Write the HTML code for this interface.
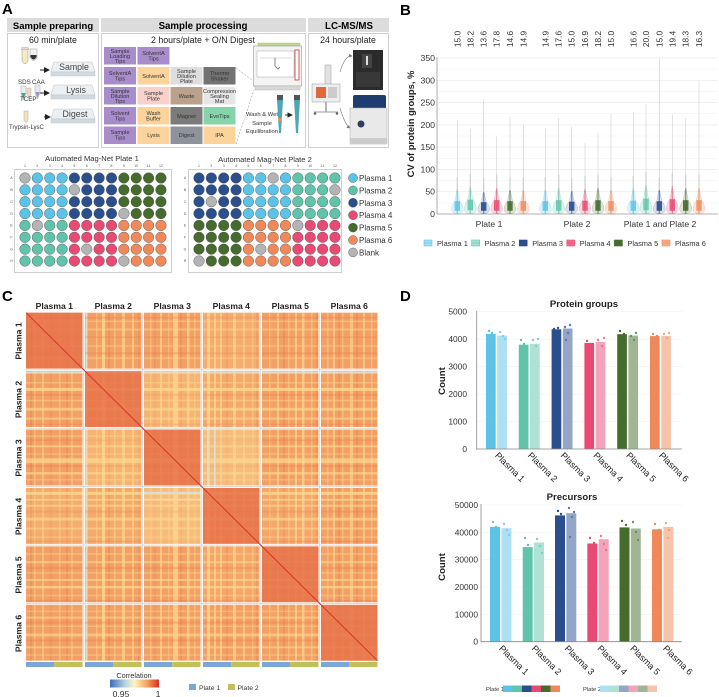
<!DOCTYPE html>
<html><head><meta charset="utf-8">
<style>
html,body{margin:0;padding:0;background:#fff;}
svg{display:block;}
.p1{fill:#5bc3e8}.p2{fill:#5fc4aa}.p3{fill:#2b4f8d}.p4{fill:#e94a73}.p5{fill:#456b2d}.p6{fill:#f0895a}.bl{fill:#b4b4b4}
.pl circle{stroke:#4a4a4a;stroke-width:0.4}
.t{font-size:5.6px;fill:#333;text-anchor:middle}
</style></head>
<body>
<svg width="719" height="697" viewBox="0 0 719 697" font-family="'Liberation Sans', Arial, sans-serif">
<defs>
<linearGradient id="cg" x1="0" x2="1" y1="0" y2="0">
<stop offset="0" stop-color="#3a6db5"/><stop offset="0.3" stop-color="#b5d0e4"/><stop offset="0.5" stop-color="#fdf5c3"/><stop offset="0.75" stop-color="#f7a35c"/><stop offset="1" stop-color="#d6302a"/>
</linearGradient>
<marker id="ah" markerWidth="6" markerHeight="6" refX="5" refY="3" orient="auto"><path d="M0,0 L6,3 L0,6 Z" fill="#222"/></marker>
<marker id="ag" markerWidth="6" markerHeight="6" refX="5" refY="3" orient="auto"><path d="M0,0 L6,3 L0,6 Z" fill="#777"/></marker>
</defs>

<!-- ================= PANEL A ================= -->
<text x="2" y="14" font-size="15" font-weight="bold">A</text>
<rect x="7" y="18" width="92" height="14" fill="#dcdcdc"/>
<rect x="101" y="18" width="205" height="14" fill="#dcdcdc"/>
<rect x="308" y="18" width="81" height="14" fill="#dcdcdc"/>
<text x="53" y="29" font-size="9.5" font-weight="bold" text-anchor="middle">Sample preparing</text>
<text x="203" y="29" font-size="9.7" font-weight="bold" text-anchor="middle">Sample processing</text>
<text x="349" y="29" font-size="9.7" font-weight="bold" text-anchor="middle">LC-MS/MS</text>
<rect x="7.5" y="33.5" width="91" height="114" fill="#fff" stroke="#cfcfcf"/>
<rect x="101.5" y="33.5" width="204" height="114" fill="#fff" stroke="#cfcfcf"/>
<rect x="308.5" y="33.5" width="80" height="114" fill="#fff" stroke="#cfcfcf"/>
<text x="53" y="43" font-size="8.8" text-anchor="middle" fill="#222">60 min/plate</text>
<text x="203" y="43" font-size="8.8" text-anchor="middle" fill="#222">2 hours/plate + O/N Digest</text>
<text x="348" y="43" font-size="8.8" text-anchor="middle" fill="#222">24 hours/plate</text>

<!-- tubes -->
<path d="M22,49 h6 v12 q-3,6 -6,0 z" fill="#f3e9c2" stroke="#999" stroke-width="0.5"/>
<rect x="21.5" y="47.5" width="7" height="2" fill="#ddd" stroke="#999" stroke-width="0.4"/>
<path d="M30,49 h7 v9 q-3.5,5 -7,0 z" fill="#eef2f4" stroke="#999" stroke-width="0.5"/>
<path d="M30.5,57 q3,5 6,0 v-2 h-6 z" fill="#333"/>
<line x1="40" y1="70" x2="49" y2="70" stroke="#222" stroke-width="1" marker-end="url(#ah)"/>
<line x1="40" y1="93" x2="49" y2="93" stroke="#222" stroke-width="1" marker-end="url(#ah)"/>
<line x1="44" y1="117" x2="50" y2="117" stroke="#222" stroke-width="1" marker-end="url(#ah)"/>
<text x="18" y="84" font-size="6.2" fill="#333">SDS</text>
<text x="32" y="84" font-size="6.2" fill="#333">CAA</text>
<path d="M21,86 h5 v8 l-2.5,6 l-2.5,-6 z" fill="#e8eef0" stroke="#999" stroke-width="0.4"/>
<path d="M21.3,93 h4.4 l-2.2,6 z" fill="#3aa68f"/>
<path d="M27,88 h4 v6 l-2,4 l-2,-4 z" fill="#f6d6c4" stroke="#999" stroke-width="0.4"/>
<path d="M35,85 h5 v8 l-2.5,6 l-2.5,-6 z" fill="#ece8f2" stroke="#999" stroke-width="0.4"/>
<path d="M35.3,92 h4.4 l-2.2,6 z" fill="#9c8cc8"/>
<text x="20" y="101" font-size="6.2" fill="#333">TCEP</text>
<path d="M24,111 h4 v9 l-2,3 l-2,-3 z" fill="#f3e5b5" stroke="#999" stroke-width="0.4"/>
<text x="9" y="129" font-size="6" fill="#333">Trypsin-LysC</text>
<!-- plates -->
<path d="M54,62 L92,62 L95,72 L51,72 Z" fill="#edf0f2" stroke="#b8c0c6" stroke-width="0.5"/>
<rect x="51" y="72" width="44" height="4" fill="#d3dadf" stroke="#b8c0c6" stroke-width="0.4"/>
<text x="74" y="70" font-size="8.8" text-anchor="middle" fill="#444">Sample</text>
<path d="M54,85 L92,85 L95,95 L51,95 Z" fill="#edf0f2" stroke="#b8c0c6" stroke-width="0.5"/>
<rect x="51" y="95" width="44" height="4" fill="#d3dadf" stroke="#b8c0c6" stroke-width="0.4"/>
<text x="76" y="93" font-size="8.8" text-anchor="middle" fill="#444">Lysis</text>
<path d="M54,109 L92,109 L95,119 L51,119 Z" fill="#edf0f2" stroke="#b8c0c6" stroke-width="0.5"/>
<rect x="51" y="119" width="44" height="4" fill="#d3dadf" stroke="#b8c0c6" stroke-width="0.4"/>
<text x="75" y="117" font-size="8.8" text-anchor="middle" fill="#444">Digest</text>

<!-- deck tiles -->
<g>
<rect x="104" y="47" width="32" height="17.5" fill="#a98ccc"/><text class="t" x="120" y="53">Sample<tspan x="120" dy="5">Loading</tspan><tspan x="120" dy="5">Tips</tspan></text>
<rect x="137.5" y="47" width="32" height="17.5" fill="#a98ccc"/><text class="t" x="153.5" y="55">SolventA<tspan x="153.5" dy="5.5">Tips</tspan></text>

<rect x="104" y="67" width="32" height="17.5" fill="#a98ccc"/><text class="t" x="120" y="75">SolventA<tspan x="120" dy="5.5">Tips</tspan></text>
<rect x="137.5" y="67" width="32" height="17.5" fill="#fcd49b"/><text class="t" x="153.5" y="78">SolventA</text>
<rect x="170.5" y="67" width="32" height="17.5" fill="#dedede"/><text class="t" x="186.5" y="73">Sample<tspan x="186.5" dy="5">Dilution</tspan><tspan x="186.5" dy="5">Plate</tspan></text>
<rect x="203.5" y="67" width="32" height="17.5" fill="#737373"/><text class="t" x="219.5" y="75" fill="#222">Thermo<tspan x="219.5" dy="5.5">Shaker</tspan></text>

<rect x="104" y="87" width="32" height="17.5" fill="#a98ccc"/><text class="t" x="120" y="93">Sample<tspan x="120" dy="5">Dilution</tspan><tspan x="120" dy="5">Tips</tspan></text>
<rect x="137.5" y="87" width="32" height="17.5" fill="#f9d0cc"/><text class="t" x="153.5" y="95">Sample<tspan x="153.5" dy="5.5">Plate</tspan></text>
<rect x="170.5" y="87" width="32" height="17.5" fill="#b9a18b"/><text class="t" x="186.5" y="98">Waste</text>
<rect x="203.5" y="87" width="32" height="17.5" fill="#e6e6e6"/><text class="t" x="219.5" y="93">Compression<tspan x="219.5" dy="5">Sealing</tspan><tspan x="219.5" dy="5">Mat</tspan></text>

<rect x="104" y="107" width="32" height="17.5" fill="#a98ccc"/><text class="t" x="120" y="115">Solvent<tspan x="120" dy="5.5">Tips</tspan></text>
<rect x="137.5" y="107" width="32" height="17.5" fill="#fcd49b"/><text class="t" x="153.5" y="115">Wash<tspan x="153.5" dy="5.5">Buffer</tspan></text>
<rect x="170.5" y="107" width="32" height="17.5" fill="#7b7b7b"/><text class="t" x="186.5" y="118">Magnet</text>
<rect x="203.5" y="107" width="32" height="17.5" fill="#86d5aa"/><text class="t" x="219.5" y="118">EvoTips</text>

<rect x="104" y="126.5" width="32" height="17.5" fill="#a98ccc"/><text class="t" x="120" y="134">Sample<tspan x="120" dy="5.5">Tips</tspan></text>
<rect x="137.5" y="126.5" width="32" height="17.5" fill="#fcd49b"/><text class="t" x="153.5" y="137">Lysis</text>
<rect x="170.5" y="126.5" width="32" height="17.5" fill="#8e939b"/><text class="t" x="186.5" y="137">Digest</text>
<rect x="203.5" y="126.5" width="32" height="17.5" fill="#fcd49b"/><text class="t" x="219.5" y="137">IPA</text>
</g>
<line x1="236" y1="68" x2="252" y2="80" stroke="#888" stroke-width="0.5" stroke-dasharray="2,1.5"/>
<line x1="236" y1="144" x2="254" y2="90" stroke="#888" stroke-width="0.5" stroke-dasharray="2,1.5"/>
<!-- robot -->
<rect x="258" y="43" width="42" height="3" fill="#bcd98e" stroke="#9fbf72" stroke-width="0.4"/>
<rect x="253.5" y="46" width="48" height="40" fill="#f3f3f3" stroke="#9a9a9a" stroke-width="0.6"/>
<rect x="257" y="51" width="37" height="26" fill="#fff" stroke="#aaa" stroke-width="0.5"/>
<rect x="295" y="50" width="4" height="30" fill="#fff" stroke="#c0392b" stroke-width="0.8"/>
<line x1="260" y1="58" x2="292" y2="58" stroke="#bbb" stroke-width="0.6"/>
<path d="M275,58 v8 l3,3 l2,-2" fill="none" stroke="#666" stroke-width="0.8"/>
<rect x="255" y="86" width="45" height="4" fill="#d8d8d8" stroke="#aaa" stroke-width="0.4"/>
<!-- tips -->
<rect x="277" y="95" width="6" height="5" fill="#555"/>
<path d="M277,100 h6 l-2,33 h-2 z" fill="#4fa7b4"/>
<rect x="278.5" y="118" width="3" height="3" fill="#e88a6a"/>
<rect x="294" y="95" width="6" height="5" fill="#555"/>
<path d="M294,100 h6 l-2,33 h-2 z" fill="#4fa7b4"/>
<line x1="285" y1="115" x2="292" y2="115" stroke="#222" stroke-width="0.9" marker-end="url(#ah)"/>
<text x="262" y="116" font-size="5.8" text-anchor="middle" fill="#333">Wash &amp; Wet</text>
<text x="262" y="125" font-size="5.8" text-anchor="middle" fill="#333">Sample</text>
<text x="262" y="133" font-size="5.8" text-anchor="middle" fill="#333">Equilibration</text>

<!-- LC-MS -->
<path d="M340,72 Q345,55 352,56" fill="none" stroke="#777" stroke-width="0.6" marker-end="url(#ag)"/>
<path d="M340,108 Q345,125 350,128" fill="none" stroke="#777" stroke-width="0.6" marker-end="url(#ag)"/>
<rect x="325" y="65" width="6" height="20" fill="#e2e2e2" stroke="#999" stroke-width="0.5"/>
<rect x="312" y="84" width="28" height="18" fill="#eee" stroke="#999" stroke-width="0.5"/>
<rect x="316" y="87" width="10" height="11" fill="#e2683a"/>
<rect x="328" y="87" width="9" height="11" fill="#ccc"/>
<line x1="326" y1="102" x2="326" y2="112" stroke="#999" stroke-width="1.5"/>
<line x1="314" y1="112" x2="338" y2="112" stroke="#999" stroke-width="1"/>
<circle cx="315" cy="113.5" r="1.3" fill="#666"/><circle cx="337" cy="113.5" r="1.3" fill="#666"/>
<rect x="353" y="50" width="30" height="40" fill="#2b2b2b"/>
<rect x="362" y="54" width="10" height="14" fill="#444"/>
<rect x="366" y="56" width="2" height="9" fill="#ddd"/>
<rect x="356" y="72" width="24" height="15" fill="#383838"/>
<rect x="353" y="95" width="33" height="15" rx="2" fill="#1f3b70"/>
<rect x="350" y="108" width="37" height="36" fill="#e9e9e9" stroke="#aaa" stroke-width="0.5"/>
<circle cx="361" cy="124" r="3.5" fill="#2d3e60"/>
<rect x="350" y="138" width="37" height="6" fill="#ccc"/>

<!-- plates title -->
<text x="92" y="161" font-size="7.6" text-anchor="middle" fill="#333">Automated Mag-Net Plate 1</text>
<text x="265" y="162" font-size="7.6" text-anchor="middle" fill="#333">Automated Mag-Net Plate 2</text>
<rect x="14.5" y="169.5" width="157" height="103" fill="#fff" stroke="#cfcfcf"/>
<rect x="188.5" y="169.5" width="153" height="103" fill="#fff" stroke="#cfcfcf"/>
<g font-size="3.5" fill="#555" text-anchor="middle">
<text x="25" y="167">1</text><text x="37.4" y="167">2</text><text x="49.7" y="167">3</text><text x="62.1" y="167">4</text><text x="74.4" y="167">5</text><text x="86.8" y="167">6</text><text x="99.2" y="167">7</text><text x="111.5" y="167">8</text><text x="123.9" y="167">9</text><text x="136.2" y="167">10</text><text x="148.6" y="167">11</text><text x="161" y="167">12</text>
<text x="199" y="167">1</text><text x="211.4" y="167">2</text><text x="223.7" y="167">3</text><text x="236.1" y="167">4</text><text x="248.4" y="167">5</text><text x="260.8" y="167">6</text><text x="273.2" y="167">7</text><text x="285.5" y="167">8</text><text x="297.9" y="167">9</text><text x="310.2" y="167">10</text><text x="322.6" y="167">11</text><text x="335" y="167">12</text>
<text x="11.5" y="179.2">A</text><text x="11.5" y="191">B</text><text x="11.5" y="203">C</text><text x="11.5" y="214.8">D</text><text x="11.5" y="226.6">E</text><text x="11.5" y="238.5">F</text><text x="11.5" y="250.4">G</text><text x="11.5" y="262.2">H</text>
<text x="185" y="179.2">A</text><text x="185" y="191">B</text><text x="185" y="203">C</text><text x="185" y="214.8">D</text><text x="185" y="226.6">E</text><text x="185" y="238.5">F</text><text x="185" y="250.4">G</text><text x="185" y="262.2">H</text>
</g>
<g class="pl">
<g transform="translate(25,178)"><circle class="bl" cx="0" r="5.3"/><circle class="p1" cx="12.36" r="5.3"/><circle class="p1" cx="24.72" r="5.3"/><circle class="p1" cx="37.08" r="5.3"/><circle class="p3" cx="49.44" r="5.3"/><circle class="p3" cx="61.8" r="5.3"/><circle class="p3" cx="74.16" r="5.3"/><circle class="p3" cx="86.52" r="5.3"/><circle class="p5" cx="98.88" r="5.3"/><circle class="p5" cx="111.24" r="5.3"/><circle class="p5" cx="123.6" r="5.3"/><circle class="p5" cx="135.96" r="5.3"/></g>
<g transform="translate(25,189.86)"><circle class="p1" cx="0" r="5.3"/><circle class="p1" cx="12.36" r="5.3"/><circle class="p1" cx="24.72" r="5.3"/><circle class="p1" cx="37.08" r="5.3"/><circle class="bl" cx="49.44" r="5.3"/><circle class="p3" cx="61.8" r="5.3"/><circle class="p3" cx="74.16" r="5.3"/><circle class="p3" cx="86.52" r="5.3"/><circle class="p5" cx="98.88" r="5.3"/><circle class="p5" cx="111.24" r="5.3"/><circle class="p5" cx="123.6" r="5.3"/><circle class="p5" cx="135.96" r="5.3"/></g>
<g transform="translate(25,201.72)"><circle class="p1" cx="0" r="5.3"/><circle class="p1" cx="12.36" r="5.3"/><circle class="p1" cx="24.72" r="5.3"/><circle class="p1" cx="37.08" r="5.3"/><circle class="p3" cx="49.44" r="5.3"/><circle class="p3" cx="61.8" r="5.3"/><circle class="p3" cx="74.16" r="5.3"/><circle class="p3" cx="86.52" r="5.3"/><circle class="p5" cx="98.88" r="5.3"/><circle class="p5" cx="111.24" r="5.3"/><circle class="p5" cx="123.6" r="5.3"/><circle class="p5" cx="135.96" r="5.3"/></g>
<g transform="translate(25,213.58)"><circle class="p1" cx="0" r="5.3"/><circle class="p1" cx="12.36" r="5.3"/><circle class="p1" cx="24.72" r="5.3"/><circle class="p1" cx="37.08" r="5.3"/><circle class="p3" cx="49.44" r="5.3"/><circle class="p3" cx="61.8" r="5.3"/><circle class="p3" cx="74.16" r="5.3"/><circle class="p3" cx="86.52" r="5.3"/><circle class="bl" cx="98.88" r="5.3"/><circle class="p5" cx="111.24" r="5.3"/><circle class="p5" cx="123.6" r="5.3"/><circle class="p5" cx="135.96" r="5.3"/></g>
<g transform="translate(25,225.44)"><circle class="p2" cx="0" r="5.3"/><circle class="bl" cx="12.36" r="5.3"/><circle class="p2" cx="24.72" r="5.3"/><circle class="p2" cx="37.08" r="5.3"/><circle class="p4" cx="49.44" r="5.3"/><circle class="p4" cx="61.8" r="5.3"/><circle class="p4" cx="74.16" r="5.3"/><circle class="p4" cx="86.52" r="5.3"/><circle class="p6" cx="98.88" r="5.3"/><circle class="p6" cx="111.24" r="5.3"/><circle class="p6" cx="123.6" r="5.3"/><circle class="p6" cx="135.96" r="5.3"/></g>
<g transform="translate(25,237.3)"><circle class="p2" cx="0" r="5.3"/><circle class="p2" cx="12.36" r="5.3"/><circle class="p2" cx="24.72" r="5.3"/><circle class="p2" cx="37.08" r="5.3"/><circle class="p4" cx="49.44" r="5.3"/><circle class="p4" cx="61.8" r="5.3"/><circle class="p4" cx="74.16" r="5.3"/><circle class="p4" cx="86.52" r="5.3"/><circle class="p6" cx="98.88" r="5.3"/><circle class="p6" cx="111.24" r="5.3"/><circle class="p6" cx="123.6" r="5.3"/><circle class="p6" cx="135.96" r="5.3"/></g>
<g transform="translate(25,249.16)"><circle class="p2" cx="0" r="5.3"/><circle class="p2" cx="12.36" r="5.3"/><circle class="p2" cx="24.72" r="5.3"/><circle class="p2" cx="37.08" r="5.3"/><circle class="p4" cx="49.44" r="5.3"/><circle class="bl" cx="61.8" r="5.3"/><circle class="p4" cx="74.16" r="5.3"/><circle class="p4" cx="86.52" r="5.3"/><circle class="p6" cx="98.88" r="5.3"/><circle class="p6" cx="111.24" r="5.3"/><circle class="p6" cx="123.6" r="5.3"/><circle class="p6" cx="135.96" r="5.3"/></g>
<g transform="translate(25,261.02)"><circle class="p2" cx="0" r="5.3"/><circle class="p2" cx="12.36" r="5.3"/><circle class="p2" cx="24.72" r="5.3"/><circle class="p2" cx="37.08" r="5.3"/><circle class="p4" cx="49.44" r="5.3"/><circle class="p4" cx="61.8" r="5.3"/><circle class="p4" cx="74.16" r="5.3"/><circle class="p4" cx="86.52" r="5.3"/><circle class="bl" cx="98.88" r="5.3"/><circle class="p6" cx="111.24" r="5.3"/><circle class="p6" cx="123.6" r="5.3"/><circle class="p6" cx="135.96" r="5.3"/></g>

<g transform="translate(199,178)"><circle class="p3" cx="0" r="5.3"/><circle class="p3" cx="12.36" r="5.3"/><circle class="p3" cx="24.72" r="5.3"/><circle class="p3" cx="37.08" r="5.3"/><circle class="p1" cx="49.44" r="5.3"/><circle class="p1" cx="61.8" r="5.3"/><circle class="bl" cx="74.16" r="5.3"/><circle class="p1" cx="86.52" r="5.3"/><circle class="p2" cx="98.88" r="5.3"/><circle class="p2" cx="111.24" r="5.3"/><circle class="p2" cx="123.6" r="5.3"/><circle class="p2" cx="135.96" r="5.3"/></g>
<g transform="translate(199,189.86)"><circle class="p3" cx="0" r="5.3"/><circle class="p3" cx="12.36" r="5.3"/><circle class="p3" cx="24.72" r="5.3"/><circle class="p3" cx="37.08" r="5.3"/><circle class="p1" cx="49.44" r="5.3"/><circle class="p1" cx="61.8" r="5.3"/><circle class="p1" cx="74.16" r="5.3"/><circle class="p1" cx="86.52" r="5.3"/><circle class="p2" cx="98.88" r="5.3"/><circle class="p2" cx="111.24" r="5.3"/><circle class="p2" cx="123.6" r="5.3"/><circle class="bl" cx="135.96" r="5.3"/></g>
<g transform="translate(199,201.72)"><circle class="p3" cx="0" r="5.3"/><circle class="bl" cx="12.36" r="5.3"/><circle class="p3" cx="24.72" r="5.3"/><circle class="p3" cx="37.08" r="5.3"/><circle class="p1" cx="49.44" r="5.3"/><circle class="p1" cx="61.8" r="5.3"/><circle class="p1" cx="74.16" r="5.3"/><circle class="p1" cx="86.52" r="5.3"/><circle class="p2" cx="98.88" r="5.3"/><circle class="p2" cx="111.24" r="5.3"/><circle class="p2" cx="123.6" r="5.3"/><circle class="p2" cx="135.96" r="5.3"/></g>
<g transform="translate(199,213.58)"><circle class="p3" cx="0" r="5.3"/><circle class="p3" cx="12.36" r="5.3"/><circle class="p3" cx="24.72" r="5.3"/><circle class="p3" cx="37.08" r="5.3"/><circle class="p1" cx="49.44" r="5.3"/><circle class="p1" cx="61.8" r="5.3"/><circle class="p1" cx="74.16" r="5.3"/><circle class="p1" cx="86.52" r="5.3"/><circle class="p2" cx="98.88" r="5.3"/><circle class="p2" cx="111.24" r="5.3"/><circle class="p2" cx="123.6" r="5.3"/><circle class="p2" cx="135.96" r="5.3"/></g>
<g transform="translate(199,225.44)"><circle class="p5" cx="0" r="5.3"/><circle class="p5" cx="12.36" r="5.3"/><circle class="p5" cx="24.72" r="5.3"/><circle class="p5" cx="37.08" r="5.3"/><circle class="p6" cx="49.44" r="5.3"/><circle class="p6" cx="61.8" r="5.3"/><circle class="p6" cx="74.16" r="5.3"/><circle class="p6" cx="86.52" r="5.3"/><circle class="bl" cx="98.88" r="5.3"/><circle class="p4" cx="111.24" r="5.3"/><circle class="p4" cx="123.6" r="5.3"/><circle class="p4" cx="135.96" r="5.3"/></g>
<g transform="translate(199,237.3)"><circle class="p5" cx="0" r="5.3"/><circle class="p5" cx="12.36" r="5.3"/><circle class="p5" cx="24.72" r="5.3"/><circle class="p5" cx="37.08" r="5.3"/><circle class="p6" cx="49.44" r="5.3"/><circle class="p6" cx="61.8" r="5.3"/><circle class="p6" cx="74.16" r="5.3"/><circle class="p6" cx="86.52" r="5.3"/><circle class="p4" cx="98.88" r="5.3"/><circle class="p4" cx="111.24" r="5.3"/><circle class="p4" cx="123.6" r="5.3"/><circle class="p4" cx="135.96" r="5.3"/></g>
<g transform="translate(199,249.16)"><circle class="p5" cx="0" r="5.3"/><circle class="p5" cx="12.36" r="5.3"/><circle class="p5" cx="24.72" r="5.3"/><circle class="p5" cx="37.08" r="5.3"/><circle class="p6" cx="49.44" r="5.3"/><circle class="bl" cx="61.8" r="5.3"/><circle class="p6" cx="74.16" r="5.3"/><circle class="p6" cx="86.52" r="5.3"/><circle class="p4" cx="98.88" r="5.3"/><circle class="p4" cx="111.24" r="5.3"/><circle class="p4" cx="123.6" r="5.3"/><circle class="p4" cx="135.96" r="5.3"/></g>
<g transform="translate(199,261.02)"><circle class="bl" cx="0" r="5.3"/><circle class="p5" cx="12.36" r="5.3"/><circle class="p5" cx="24.72" r="5.3"/><circle class="p5" cx="37.08" r="5.3"/><circle class="p6" cx="49.44" r="5.3"/><circle class="p6" cx="61.8" r="5.3"/><circle class="p6" cx="74.16" r="5.3"/><circle class="p6" cx="86.52" r="5.3"/><circle class="p4" cx="98.88" r="5.3"/><circle class="p4" cx="111.24" r="5.3"/><circle class="p4" cx="123.6" r="5.3"/><circle class="p4" cx="135.96" r="5.3"/></g>
<!-- legend -->
<circle class="p1" cx="353" cy="178" r="4.5"/><circle class="p2" cx="353" cy="190.4" r="4.5"/><circle class="p3" cx="353" cy="202.8" r="4.5"/><circle class="p4" cx="353" cy="215.2" r="4.5"/><circle class="p5" cx="353" cy="227.6" r="4.5"/><circle class="p6" cx="353" cy="240" r="4.5"/><circle class="bl" cx="353" cy="252.4" r="4.5"/>
</g>
<g font-size="8" fill="#333">
<text x="359" y="181">Plasma 1</text><text x="359" y="193.4">Plasma 2</text><text x="359" y="205.8">Plasma 3</text><text x="359" y="218.2">Plasma 4</text><text x="359" y="230.6">Plasma 5</text><text x="359" y="243">Plasma 6</text><text x="359" y="255.4">Blank</text>
</g>

<!-- ================= PANEL B ================= -->
<text x="400" y="15" font-size="15" font-weight="bold">B</text>
<g stroke="#f2f2f2" stroke-width="0.6">
<line x1="437" y1="69.1" x2="718" y2="69.1"/><line x1="437" y1="91.4" x2="718" y2="91.4"/><line x1="437" y1="113.7" x2="718" y2="113.7"/><line x1="437" y1="136" x2="718" y2="136"/><line x1="437" y1="158.3" x2="718" y2="158.3"/><line x1="437" y1="180.6" x2="718" y2="180.6"/><line x1="437" y1="202.9" x2="718" y2="202.9"/>
</g>
<g stroke="#e6e6e6" stroke-width="0.6">
<line x1="437" y1="58" x2="718" y2="58"/><line x1="437" y1="80.3" x2="718" y2="80.3"/><line x1="437" y1="102.6" x2="718" y2="102.6"/><line x1="437" y1="124.9" x2="718" y2="124.9"/><line x1="437" y1="147.1" x2="718" y2="147.1"/><line x1="437" y1="169.4" x2="718" y2="169.4"/><line x1="437" y1="191.7" x2="718" y2="191.7"/>
</g>
<line x1="437" y1="57" x2="437" y2="214.5" stroke="#999" stroke-width="0.8"/>
<line x1="437" y1="214" x2="718" y2="214" stroke="#999" stroke-width="0.8"/>
<g font-size="8.7" fill="#333" text-anchor="end">
<text x="435" y="61">350</text><text x="435" y="83.3">300</text><text x="435" y="105.6">250</text><text x="435" y="127.9">200</text><text x="435" y="150.1">150</text><text x="435" y="172.4">100</text><text x="435" y="194.7">50</text><text x="435" y="217">0</text>
</g>
<text transform="translate(414,124) rotate(-90)" font-size="9.4" font-weight="bold" text-anchor="middle" fill="#222">CV of protein  groups, %</text>
<g font-size="8.6" fill="#333" text-anchor="middle">
<text x="489" y="227">Plate 1</text><text x="577" y="227">Plate 2</text><text x="660" y="227">Plate 1 and Plate 2</text>
</g>
<!-- top numbers -->
<g font-size="8.4" fill="#333" text-anchor="middle">
<text transform="translate(460.3,39) rotate(-90)">15.0</text><text transform="translate(473.3,39) rotate(-90)">18.2</text><text transform="translate(486.7,39) rotate(-90)">13.6</text><text transform="translate(499.7,39) rotate(-90)">17.8</text><text transform="translate(513,39) rotate(-90)">14.6</text><text transform="translate(526.3,39) rotate(-90)">14.9</text>
<text transform="translate(548.3,39) rotate(-90)">14.9</text><text transform="translate(561.7,39) rotate(-90)">17.6</text><text transform="translate(574.7,39) rotate(-90)">15.0</text><text transform="translate(588,39) rotate(-90)">16.9</text><text transform="translate(601,39) rotate(-90)">18.2</text><text transform="translate(614,39) rotate(-90)">15.0</text>
<text transform="translate(636.3,39) rotate(-90)">16.6</text><text transform="translate(649,39) rotate(-90)">20.0</text><text transform="translate(662.3,39) rotate(-90)">15.0</text><text transform="translate(675.3,39) rotate(-90)">19.4</text><text transform="translate(688.7,39) rotate(-90)">18.3</text><text transform="translate(702,39) rotate(-90)">16.3</text>
</g>
<!-- thicker tail segments -->
<g stroke="#c4c4c4" stroke-width="1.1">
<line x1="457.3" y1="214" x2="457.3" y2="177"/><line x1="470.3" y1="214" x2="470.3" y2="174"/><line x1="483.7" y1="214" x2="483.7" y2="178"/><line x1="496.7" y1="214" x2="496.7" y2="175"/><line x1="510" y1="214" x2="510" y2="177"/><line x1="523.3" y1="214" x2="523.3" y2="177"/>
<line x1="545.3" y1="214" x2="545.3" y2="177"/><line x1="558.7" y1="214" x2="558.7" y2="175"/><line x1="571.7" y1="214" x2="571.7" y2="178"/><line x1="585" y1="214" x2="585" y2="176"/><line x1="598" y1="214" x2="598" y2="175"/><line x1="611" y1="214" x2="611" y2="177"/>
<line x1="633.3" y1="214" x2="633.3" y2="176"/><line x1="646" y1="214" x2="646" y2="172"/><line x1="659.3" y1="214" x2="659.3" y2="177"/><line x1="672.3" y1="214" x2="672.3" y2="173"/><line x1="685.7" y1="214" x2="685.7" y2="175"/><line x1="699" y1="214" x2="699" y2="175"/>
</g>
<!-- violins -->
<g id="violins">
<g transform="translate(457.3,0)"><line y1="214" y2="120" stroke="#d0d0d0" stroke-width="0.6"/><line y1="214" y2="189" stroke="#5bc3e8" stroke-opacity="0.45" stroke-width="1.3"/><path d="M0,213.5 C-8,213.5 -7,207 -2.5,201 L-0.6,191 L0.6,191 L2.5,201 C7,207 8,213.5 0,213.5 Z" fill="#5bc3e8" fill-opacity="0.22" stroke="#5bc3e8" stroke-opacity="0.5" stroke-width="0.4"/><rect x="-2.4" y="201.5" width="4.8" height="9" fill="#5bc3e8" fill-opacity="0.8" stroke="#5bc3e8" stroke-width="0.5"/></g>
<g transform="translate(470.3,0)"><line y1="214" y2="128.9" stroke="#d0d0d0" stroke-width="0.6"/><line y1="214" y2="187" stroke="#5fc4aa" stroke-opacity="0.45" stroke-width="1.3"/><path d="M0,213.5 C-8,213.5 -7,207 -2.5,199 L-0.6,189 L0.6,189 L2.5,199 C7,207 8,213.5 0,213.5 Z" fill="#5fc4aa" fill-opacity="0.22" stroke="#5fc4aa" stroke-opacity="0.5" stroke-width="0.4"/><rect x="-2.4" y="200" width="4.8" height="10" fill="#5fc4aa" fill-opacity="0.8" stroke="#5fc4aa" stroke-width="0.5"/></g>
<g transform="translate(483.7,0)"><line y1="214" y2="99" stroke="#d0d0d0" stroke-width="0.6"/><line y1="214" y2="192" stroke="#2b4f8d" stroke-opacity="0.45" stroke-width="1.3"/><path d="M0,213.5 C-8,213.5 -7,207 -2.5,202 L-0.6,193 L0.6,193 L2.5,202 C7,207 8,213.5 0,213.5 Z" fill="#2b4f8d" fill-opacity="0.18" stroke="#2b4f8d" stroke-opacity="0.4" stroke-width="0.4"/><rect x="-2.4" y="202.5" width="4.8" height="8" fill="#2b4f8d" fill-opacity="0.9" stroke="#2b4f8d" stroke-width="0.5"/></g>
<g transform="translate(496.7,0)"><line y1="214" y2="136.4" stroke="#d0d0d0" stroke-width="0.6"/><line y1="214" y2="188" stroke="#e94a73" stroke-opacity="0.45" stroke-width="1.3"/><path d="M0,213.5 C-8,213.5 -7,207 -2.5,200 L-0.6,190 L0.6,190 L2.5,200 C7,207 8,213.5 0,213.5 Z" fill="#e94a73" fill-opacity="0.2" stroke="#e94a73" stroke-opacity="0.45" stroke-width="0.4"/><rect x="-2.4" y="200.5" width="4.8" height="10" fill="#e94a73" fill-opacity="0.85" stroke="#e94a73" stroke-width="0.5"/></g>
<g transform="translate(510,0)"><line y1="214" y2="116.4" stroke="#d0d0d0" stroke-width="0.6"/><line y1="214" y2="190" stroke="#456b2d" stroke-opacity="0.45" stroke-width="1.3"/><path d="M0,213.5 C-8,213.5 -7,207 -2.5,201 L-0.6,191 L0.6,191 L2.5,201 C7,207 8,213.5 0,213.5 Z" fill="#456b2d" fill-opacity="0.18" stroke="#456b2d" stroke-opacity="0.4" stroke-width="0.4"/><rect x="-2.4" y="201.5" width="4.8" height="9" fill="#456b2d" fill-opacity="0.9" stroke="#456b2d" stroke-width="0.5"/></g>
<g transform="translate(523.3,0)"><line y1="214" y2="124.9" stroke="#d0d0d0" stroke-width="0.6"/><line y1="214" y2="190" stroke="#f0895a" stroke-opacity="0.45" stroke-width="1.3"/><path d="M0,213.5 C-8,213.5 -7,207 -2.5,201 L-0.6,191 L0.6,191 L2.5,201 C7,207 8,213.5 0,213.5 Z" fill="#f0895a" fill-opacity="0.22" stroke="#f0895a" stroke-opacity="0.5" stroke-width="0.4"/><rect x="-2.4" y="201.5" width="4.8" height="9" fill="#f0895a" fill-opacity="0.8" stroke="#f0895a" stroke-width="0.5"/></g>

<g transform="translate(545.3,0)"><line y1="214" y2="128" stroke="#d0d0d0" stroke-width="0.6"/><line y1="214" y2="190" stroke="#5bc3e8" stroke-opacity="0.45" stroke-width="1.3"/><path d="M0,213.5 C-8,213.5 -7,207 -2.5,201 L-0.6,191 L0.6,191 L2.5,201 C7,207 8,213.5 0,213.5 Z" fill="#5bc3e8" fill-opacity="0.22" stroke="#5bc3e8" stroke-opacity="0.5" stroke-width="0.4"/><rect x="-2.4" y="201.5" width="4.8" height="9" fill="#5bc3e8" fill-opacity="0.8" stroke="#5bc3e8" stroke-width="0.5"/></g>
<g transform="translate(558.7,0)"><line y1="214" y2="118.2" stroke="#d0d0d0" stroke-width="0.6"/><line y1="214" y2="188" stroke="#5fc4aa" stroke-opacity="0.45" stroke-width="1.3"/><path d="M0,213.5 C-8,213.5 -7,207 -2.5,200 L-0.6,190 L0.6,190 L2.5,200 C7,207 8,213.5 0,213.5 Z" fill="#5fc4aa" fill-opacity="0.22" stroke="#5fc4aa" stroke-opacity="0.5" stroke-width="0.4"/><rect x="-2.4" y="200.5" width="4.8" height="10" fill="#5fc4aa" fill-opacity="0.8" stroke="#5fc4aa" stroke-width="0.5"/></g>
<g transform="translate(571.7,0)"><line y1="214" y2="126.6" stroke="#d0d0d0" stroke-width="0.6"/><line y1="214" y2="191" stroke="#2b4f8d" stroke-opacity="0.45" stroke-width="1.3"/><path d="M0,213.5 C-8,213.5 -7,207 -2.5,201.5 L-0.6,192 L0.6,192 L2.5,201.5 C7,207 8,213.5 0,213.5 Z" fill="#2b4f8d" fill-opacity="0.18" stroke="#2b4f8d" stroke-opacity="0.4" stroke-width="0.4"/><rect x="-2.4" y="202" width="4.8" height="8.5" fill="#2b4f8d" fill-opacity="0.9" stroke="#2b4f8d" stroke-width="0.5"/></g>
<g transform="translate(585,0)"><line y1="214" y2="143.1" stroke="#d0d0d0" stroke-width="0.6"/><line y1="214" y2="189" stroke="#e94a73" stroke-opacity="0.45" stroke-width="1.3"/><path d="M0,213.5 C-8,213.5 -7,207 -2.5,200.5 L-0.6,191 L0.6,191 L2.5,200.5 C7,207 8,213.5 0,213.5 Z" fill="#e94a73" fill-opacity="0.2" stroke="#e94a73" stroke-opacity="0.45" stroke-width="0.4"/><rect x="-2.4" y="201" width="4.8" height="9.5" fill="#e94a73" fill-opacity="0.85" stroke="#e94a73" stroke-width="0.5"/></g>
<g transform="translate(598,0)"><line y1="214" y2="132.4" stroke="#d0d0d0" stroke-width="0.6"/><line y1="214" y2="188" stroke="#456b2d" stroke-opacity="0.45" stroke-width="1.3"/><path d="M0,213.5 C-8,213.5 -7,207 -2.5,200 L-0.6,190 L0.6,190 L2.5,200 C7,207 8,213.5 0,213.5 Z" fill="#456b2d" fill-opacity="0.18" stroke="#456b2d" stroke-opacity="0.4" stroke-width="0.4"/><rect x="-2.4" y="200.5" width="4.8" height="10" fill="#456b2d" fill-opacity="0.9" stroke="#456b2d" stroke-width="0.5"/></g>
<g transform="translate(611,0)"><line y1="214" y2="113.7" stroke="#d0d0d0" stroke-width="0.6"/><line y1="214" y2="190" stroke="#f0895a" stroke-opacity="0.45" stroke-width="1.3"/><path d="M0,213.5 C-8,213.5 -7,207 -2.5,201 L-0.6,191 L0.6,191 L2.5,201 C7,207 8,213.5 0,213.5 Z" fill="#f0895a" fill-opacity="0.22" stroke="#f0895a" stroke-opacity="0.5" stroke-width="0.4"/><rect x="-2.4" y="201.5" width="4.8" height="9" fill="#f0895a" fill-opacity="0.8" stroke="#f0895a" stroke-width="0.5"/></g>

<g transform="translate(633.3,0)"><line y1="214" y2="111.5" stroke="#d0d0d0" stroke-width="0.6"/><line y1="214" y2="188" stroke="#5bc3e8" stroke-opacity="0.45" stroke-width="1.3"/><path d="M0,213.5 C-8,213.5 -7,207 -2.5,200.5 L-0.6,190 L0.6,190 L2.5,200.5 C7,207 8,213.5 0,213.5 Z" fill="#5bc3e8" fill-opacity="0.22" stroke="#5bc3e8" stroke-opacity="0.5" stroke-width="0.4"/><rect x="-2.4" y="201" width="4.8" height="9.5" fill="#5bc3e8" fill-opacity="0.8" stroke="#5bc3e8" stroke-width="0.5"/></g>
<g transform="translate(646,0)"><line y1="214" y2="103.9" stroke="#d0d0d0" stroke-width="0.6"/><line y1="214" y2="185" stroke="#5fc4aa" stroke-opacity="0.45" stroke-width="1.3"/><path d="M0,213.5 C-8,213.5 -7,207 -2.5,198.5 L-0.6,188 L0.6,188 L2.5,198.5 C7,207 8,213.5 0,213.5 Z" fill="#5fc4aa" fill-opacity="0.22" stroke="#5fc4aa" stroke-opacity="0.5" stroke-width="0.4"/><rect x="-2.4" y="199" width="4.8" height="11" fill="#5fc4aa" fill-opacity="0.8" stroke="#5fc4aa" stroke-width="0.5"/></g>
<g transform="translate(659.3,0)"><line y1="214" y2="58" stroke="#d0d0d0" stroke-width="0.6"/><line y1="214" y2="190" stroke="#2b4f8d" stroke-opacity="0.45" stroke-width="1.3"/><path d="M0,213.5 C-8,213.5 -7,207 -2.5,201 L-0.6,191 L0.6,191 L2.5,201 C7,207 8,213.5 0,213.5 Z" fill="#2b4f8d" fill-opacity="0.18" stroke="#2b4f8d" stroke-opacity="0.4" stroke-width="0.4"/><rect x="-2.4" y="201.5" width="4.8" height="9" fill="#2b4f8d" fill-opacity="0.9" stroke="#2b4f8d" stroke-width="0.5"/></g>
<g transform="translate(672.3,0)"><line y1="214" y2="114.6" stroke="#d0d0d0" stroke-width="0.6"/><line y1="214" y2="186" stroke="#e94a73" stroke-opacity="0.45" stroke-width="1.3"/><path d="M0,213.5 C-8,213.5 -7,207 -2.5,199 L-0.6,189 L0.6,189 L2.5,199 C7,207 8,213.5 0,213.5 Z" fill="#e94a73" fill-opacity="0.2" stroke="#e94a73" stroke-opacity="0.45" stroke-width="0.4"/><rect x="-2.4" y="199.5" width="4.8" height="11" fill="#e94a73" fill-opacity="0.85" stroke="#e94a73" stroke-width="0.5"/></g>
<g transform="translate(685.7,0)"><line y1="214" y2="118.2" stroke="#d0d0d0" stroke-width="0.6"/><line y1="214" y2="188" stroke="#456b2d" stroke-opacity="0.45" stroke-width="1.3"/><path d="M0,213.5 C-8,213.5 -7,207 -2.5,200 L-0.6,190 L0.6,190 L2.5,200 C7,207 8,213.5 0,213.5 Z" fill="#456b2d" fill-opacity="0.18" stroke="#456b2d" stroke-opacity="0.4" stroke-width="0.4"/><rect x="-2.4" y="200.5" width="4.8" height="10" fill="#456b2d" fill-opacity="0.9" stroke="#456b2d" stroke-width="0.5"/></g>
<g transform="translate(699,0)"><line y1="214" y2="80.7" stroke="#d0d0d0" stroke-width="0.6"/><line y1="214" y2="188" stroke="#f0895a" stroke-opacity="0.45" stroke-width="1.3"/><path d="M0,213.5 C-8,213.5 -7,207 -2.5,200 L-0.6,190 L0.6,190 L2.5,200 C7,207 8,213.5 0,213.5 Z" fill="#f0895a" fill-opacity="0.22" stroke="#f0895a" stroke-opacity="0.5" stroke-width="0.4"/><rect x="-2.4" y="200.5" width="4.8" height="10" fill="#f0895a" fill-opacity="0.8" stroke="#f0895a" stroke-width="0.5"/></g>
</g>
<!-- B legend -->
<g>
<rect x="424" y="240" width="8" height="6" fill="#5bc3e8" fill-opacity="0.55" stroke="#5bc3e8" stroke-width="0.6"/><line x1="424" y1="243" x2="432" y2="243" stroke="#5bc3e8" stroke-width="0.6"/>
<rect x="471.6" y="240" width="8" height="6" fill="#5fc4aa" fill-opacity="0.55" stroke="#5fc4aa" stroke-width="0.6"/><line x1="471.6" y1="243" x2="479.6" y2="243" stroke="#5fc4aa" stroke-width="0.6"/>
<rect x="519.2" y="240" width="8" height="6" fill="#2b4f8d" stroke="#2b4f8d" stroke-width="0.6"/>
<rect x="566.8" y="240" width="8" height="6" fill="#e94a73" fill-opacity="0.8" stroke="#e94a73" stroke-width="0.6"/><line x1="566.8" y1="243" x2="574.8" y2="243" stroke="#e94a73" stroke-width="0.6"/>
<rect x="614.4" y="240" width="8" height="6" fill="#456b2d" stroke="#456b2d" stroke-width="0.6"/>
<rect x="662" y="240" width="8" height="6" fill="#f0895a" fill-opacity="0.7" stroke="#f0895a" stroke-width="0.6"/><line x1="662" y1="243" x2="670" y2="243" stroke="#f0895a" stroke-width="0.6"/>
</g>
<g font-size="7.4" fill="#333">
<text x="437" y="246">Plasma 1</text><text x="484.6" y="246">Plasma 2</text><text x="532.2" y="246">Plasma 3</text><text x="579.8" y="246">Plasma 4</text><text x="627.4" y="246">Plasma 5</text><text x="675" y="246">Plasma 6</text>
</g>

<!-- ================= PANEL C ================= -->
<text x="2" y="301" font-size="15" font-weight="bold">C</text>
<g font-size="8.6" font-weight="bold" text-anchor="middle" fill="#222">
<text x="54.3" y="309">Plasma 1</text><text x="113.3" y="309">Plasma 2</text><text x="172.3" y="309">Plasma 3</text><text x="231.3" y="309">Plasma 4</text><text x="290.3" y="309">Plasma 5</text><text x="349.3" y="309">Plasma 6</text>
<text transform="translate(21.5,341) rotate(-90)">Plasma 1</text><text transform="translate(21.5,399.5) rotate(-90)">Plasma 2</text><text transform="translate(21.5,458) rotate(-90)">Plasma 3</text><text transform="translate(21.5,516.5) rotate(-90)">Plasma 4</text><text transform="translate(21.5,575) rotate(-90)">Plasma 5</text><text transform="translate(21.5,633.5) rotate(-90)">Plasma 6</text>
</g>
<g transform="translate(26,312.7) scale(1,0.99)">
<rect x="0" y="0" width="351.5" height="351.5" fill="#f3a066"/>
<g id="vs">
<rect x="8" y="0" width="1.5" height="351.5" fill="#fcd890" opacity="0.45"/>
<rect x="16" y="0" width="2" height="351.5" fill="#fcd890" opacity="0.5"/>
<rect x="33" y="0" width="1.5" height="351.5" fill="#fcd890" opacity="0.45"/>
<rect x="45" y="0" width="2" height="351.5" fill="#fcd890" opacity="0.4"/>
<rect x="59.5" y="0" width="2" height="351.5" fill="#dfe6dc" opacity="0.85"/>
<rect x="70" y="0" width="1.5" height="351.5" fill="#fcd890" opacity="0.45"/>
<rect x="76" y="0" width="3" height="351.5" fill="#fcd890" opacity="0.8"/>
<rect x="88" y="0" width="1.5" height="351.5" fill="#fcd890" opacity="0.5"/>
<rect x="96" y="0" width="3" height="351.5" fill="#fcd890" opacity="0.65"/>
<rect x="106" y="0" width="2" height="351.5" fill="#fcd890" opacity="0.6"/>
<rect x="124" y="0" width="1.5" height="351.5" fill="#fcd890" opacity="0.45"/>
<rect x="134" y="0" width="2" height="351.5" fill="#fcd890" opacity="0.65"/>
<rect x="142" y="0" width="1.5" height="351.5" fill="#fcd890" opacity="0.45"/>
<rect x="147" y="0" width="5" height="351.5" fill="#fcd890" opacity="0.7"/>
<rect x="161" y="0" width="2.5" height="351.5" fill="#fcd890" opacity="0.65"/>
<rect x="168" y="0" width="1.5" height="351.5" fill="#fcd890" opacity="0.45"/>
<rect x="181" y="0" width="3" height="351.5" fill="#fcd890" opacity="0.8"/>
<rect x="188" y="0" width="2" height="351.5" fill="#fcd890" opacity="0.7"/>
<rect x="194" y="0" width="2" height="351.5" fill="#fcd890" opacity="0.65"/>
<rect x="207" y="0" width="3" height="351.5" fill="#fcd890" opacity="0.65"/>
<rect x="217" y="0" width="2" height="351.5" fill="#fcd890" opacity="0.6"/>
<rect x="226" y="0" width="1.5" height="351.5" fill="#fcd890" opacity="0.45"/>
<rect x="243" y="0" width="1.5" height="351.5" fill="#fcd890" opacity="0.5"/>
<rect x="251" y="0" width="2" height="351.5" fill="#fcd890" opacity="0.6"/>
<rect x="262" y="0" width="1.5" height="351.5" fill="#fcd890" opacity="0.45"/>
<rect x="269" y="0" width="2" height="351.5" fill="#fcd890" opacity="0.65"/>
<rect x="276" y="0" width="2.5" height="351.5" fill="#fcd890" opacity="0.7"/>
<rect x="285" y="0" width="1.5" height="351.5" fill="#fcd890" opacity="0.45"/>
<rect x="301" y="0" width="1.5" height="351.5" fill="#fcd890" opacity="0.45"/>
<rect x="307" y="0" width="2" height="351.5" fill="#fcd890" opacity="0.6"/>
<rect x="316" y="0" width="1.5" height="351.5" fill="#fcd890" opacity="0.45"/>
<rect x="324" y="0" width="3" height="351.5" fill="#fcd890" opacity="0.6"/>
<rect x="337" y="0" width="2" height="351.5" fill="#fcd890" opacity="0.6"/>
<rect x="345" y="0" width="1.5" height="351.5" fill="#fcd890" opacity="0.45"/>
<rect x="4" y="0" width="2" height="351.5" fill="#e8744a" opacity="0.3"/>
<rect x="24" y="0" width="1.5" height="351.5" fill="#e8744a" opacity="0.3"/>
<rect x="40" y="0" width="2" height="351.5" fill="#e8744a" opacity="0.3"/>
<rect x="82" y="0" width="2" height="351.5" fill="#e8744a" opacity="0.3"/>
<rect x="112" y="0" width="1.5" height="351.5" fill="#e8744a" opacity="0.3"/>
<rect x="128" y="0" width="1.5" height="351.5" fill="#e8744a" opacity="0.3"/>
<rect x="154" y="0" width="2" height="351.5" fill="#e8744a" opacity="0.3"/>
<rect x="200" y="0" width="2" height="351.5" fill="#e8744a" opacity="0.3"/>
<rect x="230" y="0" width="2" height="351.5" fill="#e8744a" opacity="0.3"/>
<rect x="257" y="0" width="2" height="351.5" fill="#e8744a" opacity="0.3"/>
<rect x="290" y="0" width="2" height="351.5" fill="#e8744a" opacity="0.3"/>
<rect x="312" y="0" width="2" height="351.5" fill="#e8744a" opacity="0.3"/>
<rect x="330" y="0" width="2" height="351.5" fill="#e8744a" opacity="0.3"/>
</g>
<use href="#vs" transform="matrix(0 1 1 0 0 0)"/>
<!-- lighter off-diagonal blocks -->
<g fill="#fcd890">
<rect x="118" y="177" width="56.5" height="56.5" opacity="0.5"/><rect x="177" y="118" width="56.5" height="56.5" opacity="0.5"/>
<rect x="59" y="118" width="56.5" height="56.5" opacity="0.35"/><rect x="118" y="59" width="56.5" height="56.5" opacity="0.35"/>
<rect x="0" y="177" width="56.5" height="56.5" opacity="0.22"/><rect x="177" y="0" width="56.5" height="56.5" opacity="0.22"/>
<rect x="59" y="177" width="56.5" height="56.5" opacity="0.18"/><rect x="177" y="59" width="56.5" height="56.5" opacity="0.18"/>
<rect x="236" y="177" width="56.5" height="56.5" opacity="0.12"/><rect x="177" y="236" width="56.5" height="56.5" opacity="0.12"/>
</g>
<g fill="#d3e4ea" opacity="0.85">
<rect x="118" y="181" width="56.5" height="1.6"/><rect x="181" y="118" width="1.6" height="56.5"/>
<rect x="118" y="188" width="56.5" height="1.2"/><rect x="188" y="118" width="1.2" height="56.5"/>
</g>
<!-- diagonal blocks -->
<g fill="#e8734a" opacity="0.85">
<rect x="0" y="0" width="56.5" height="56.5"/><rect x="59" y="59" width="56.5" height="56.5"/><rect x="118" y="118" width="56.5" height="56.5"/><rect x="177" y="177" width="56.5" height="56.5"/><rect x="236" y="236" width="56.5" height="56.5"/><rect x="295" y="295" width="56.5" height="56.5"/>
</g>
<!-- gaps -->
<g fill="#fff">
<rect x="56.5" y="0" width="2.5" height="351.5"/><rect x="115.5" y="0" width="2.5" height="351.5"/><rect x="174.5" y="0" width="2.5" height="351.5"/><rect x="233.5" y="0" width="2.5" height="351.5"/><rect x="292.5" y="0" width="2.5" height="351.5"/>
<rect y="56.5" x="0" height="2.5" width="351.5"/><rect y="115.5" x="0" height="2.5" width="351.5"/><rect y="174.5" x="0" height="2.5" width="351.5"/><rect y="233.5" x="0" height="2.5" width="351.5"/><rect y="292.5" x="0" height="2.5" width="351.5"/>
</g>
<g stroke="#cfcfcf" stroke-width="0.8">
<line x1="57.75" y1="0" x2="57.75" y2="351.5"/><line x1="116.75" y1="0" x2="116.75" y2="351.5"/><line x1="175.75" y1="0" x2="175.75" y2="351.5"/><line x1="234.75" y1="0" x2="234.75" y2="351.5"/><line x1="293.75" y1="0" x2="293.75" y2="351.5"/>
<line y1="57.75" x1="0" y2="57.75" x2="351.5"/><line y1="116.75" x1="0" y2="116.75" x2="351.5"/><line y1="175.75" x1="0" y2="175.75" x2="351.5"/><line y1="234.75" x1="0" y2="234.75" x2="351.5"/><line y1="293.75" x1="0" y2="293.75" x2="351.5"/>
</g>
<line x1="0" y1="0" x2="351.5" y2="351.5" stroke="#d2352a" stroke-width="1"/>
</g>
<!-- plate bars -->
<g>
<rect x="26" y="662" width="28.25" height="5" fill="#7ba7d8"/><rect x="54.25" y="662" width="28.25" height="5" fill="#c3bf5b"/>
<rect x="85" y="662" width="28.25" height="5" fill="#7ba7d8"/><rect x="113.25" y="662" width="28.25" height="5" fill="#c3bf5b"/>
<rect x="144" y="662" width="28.25" height="5" fill="#7ba7d8"/><rect x="172.25" y="662" width="28.25" height="5" fill="#c3bf5b"/>
<rect x="203" y="662" width="28.25" height="5" fill="#7ba7d8"/><rect x="231.25" y="662" width="28.25" height="5" fill="#c3bf5b"/>
<rect x="262" y="662" width="28.25" height="5" fill="#7ba7d8"/><rect x="290.25" y="662" width="28.25" height="5" fill="#c3bf5b"/>
<rect x="321" y="662" width="28.25" height="5" fill="#7ba7d8"/><rect x="349.25" y="662" width="28.25" height="5" fill="#c3bf5b"/>
</g>
<text x="134" y="678" font-size="7.2" text-anchor="middle" fill="#333">Correlation</text>
<rect x="110" y="679.5" width="49" height="8" fill="url(#cg)"/>
<text x="121" y="697" font-size="8.6" text-anchor="middle" fill="#333">0.95</text>
<text x="158" y="697" font-size="8.6" text-anchor="middle" fill="#333">1</text>
<rect x="189" y="684" width="7" height="6" fill="#7ba7d8"/>
<text x="199" y="690" font-size="6.8" fill="#333">Plate 1</text>
<rect x="228" y="684" width="7" height="6" fill="#c3bf5b"/>
<text x="237.5" y="690" font-size="6.8" fill="#333">Plate 2</text>

<!-- ================= PANEL D ================= -->
<text x="400" y="301" font-size="15" font-weight="bold">D</text>
<text x="584" y="307" font-size="9.6" font-weight="bold" text-anchor="middle" fill="#222">Protein groups</text>
<g stroke="#f0f0f0" stroke-width="0.6">
<line x1="477" y1="311.7" x2="682" y2="311.7"/><line x1="477" y1="339.2" x2="682" y2="339.2"/><line x1="477" y1="366.6" x2="682" y2="366.6"/><line x1="477" y1="394.1" x2="682" y2="394.1"/><line x1="477" y1="421.5" x2="682" y2="421.5"/>
</g>
<g font-size="8.4" fill="#333" text-anchor="end">
<text x="467" y="314.7">5000</text><text x="467" y="342.2">4000</text><text x="467" y="369.6">3000</text><text x="467" y="397.1">2000</text><text x="467" y="424.5">1000</text><text x="467" y="452">0</text>
</g>
<text transform="translate(445,381) rotate(-90)" font-size="9.6" font-weight="bold" text-anchor="middle" fill="#222">Count</text>
<g>
<rect x="486" y="333.9" width="9.7" height="115.1" fill="#5bc3e8"/><rect x="497.2" y="335.6" width="9.7" height="113.4" fill="#aee0f3"/>
<rect x="518.8" y="344.7" width="9.7" height="104.3" fill="#5fc4aa"/><rect x="530" y="343.8" width="9.7" height="105.2" fill="#afe2d4"/>
<rect x="551.6" y="329.3" width="9.7" height="119.7" fill="#2b4f8d"/><rect x="562.8" y="328.5" width="9.7" height="120.5" fill="#94a6c6"/>
<rect x="584.4" y="343" width="9.7" height="106" fill="#e94a73"/><rect x="595.6" y="341.9" width="9.7" height="107.1" fill="#f4a3b9"/>
<rect x="617.2" y="334.2" width="9.7" height="114.8" fill="#456b2d"/><rect x="628.4" y="335.6" width="9.7" height="113.4" fill="#a1b596"/>
<rect x="650" y="336.1" width="9.7" height="112.9" fill="#f0895a"/><rect x="661.2" y="335.9" width="9.7" height="113.1" fill="#f7c4ab"/>
</g>
<g>
<circle cx="489" cy="331" r="1.2" fill="#5bc3e8"/><circle cx="492" cy="333" r="1.2" fill="#5bc3e8"/><circle cx="494" cy="336" r="1.2" fill="#5bc3e8"/>
<circle cx="500" cy="332" r="1.2" fill="#7fcfee"/><circle cx="503" cy="336" r="1.2" fill="#7fcfee"/><circle cx="505" cy="339" r="1.2" fill="#7fcfee"/>
<circle cx="521" cy="340" r="1.2" fill="#5fc4aa"/><circle cx="524" cy="344" r="1.2" fill="#5fc4aa"/><circle cx="526" cy="348" r="1.2" fill="#5fc4aa"/>
<circle cx="533" cy="340" r="1.2" fill="#80d0bb"/><circle cx="536" cy="346" r="1.2" fill="#80d0bb"/><circle cx="538" cy="339" r="1.2" fill="#80d0bb"/>
<circle cx="554" cy="329" r="1.2" fill="#2b4f8d"/><circle cx="558" cy="328" r="1.2" fill="#2b4f8d"/>
<circle cx="565" cy="327" r="1.2" fill="#5d78a8"/><circle cx="568" cy="333" r="1.2" fill="#5d78a8"/><circle cx="566" cy="340" r="1.2" fill="#5d78a8"/><circle cx="570" cy="325" r="1.2" fill="#5d78a8"/>
<circle cx="587" cy="341" r="1.2" fill="#e94a73"/><circle cx="591" cy="344" r="1.2" fill="#e94a73"/>
<circle cx="598" cy="340" r="1.2" fill="#ef7597"/><circle cx="602" cy="346" r="1.2" fill="#ef7597"/><circle cx="604" cy="338" r="1.2" fill="#ef7597"/>
<circle cx="620" cy="331" r="1.2" fill="#456b2d"/><circle cx="624" cy="334" r="1.2" fill="#456b2d"/>
<circle cx="631" cy="336" r="1.2" fill="#6f8c5b"/><circle cx="634" cy="340" r="1.2" fill="#6f8c5b"/><circle cx="636" cy="333" r="1.2" fill="#6f8c5b"/>
<circle cx="653" cy="334" r="1.2" fill="#f0895a"/><circle cx="657" cy="336" r="1.2" fill="#f0895a"/>
<circle cx="664" cy="334" r="1.2" fill="#f4a67f"/><circle cx="667" cy="338" r="1.2" fill="#f4a67f"/><circle cx="669" cy="333" r="1.2" fill="#f4a67f"/>
</g>
<line x1="476.7" y1="311" x2="476.7" y2="449.5" stroke="#888" stroke-width="0.8"/>
<line x1="476.7" y1="449" x2="682" y2="449" stroke="#888" stroke-width="0.8"/>
<g font-size="9" fill="#222">
<text transform="translate(494.5,456) rotate(45)">Plasma 1</text><text transform="translate(527.3,456) rotate(45)">Plasma 2</text><text transform="translate(560.1,456) rotate(45)">Plasma 3</text><text transform="translate(592.9,456) rotate(45)">Plasma 4</text><text transform="translate(625.7,456) rotate(45)">Plasma 5</text><text transform="translate(658.5,456) rotate(45)">Plasma 6</text>
</g>

<text x="572" y="500" font-size="9.6" font-weight="bold" text-anchor="middle" fill="#222">Precursors</text>
<g stroke="#f0f0f0" stroke-width="0.6">
<line x1="481" y1="505" x2="682" y2="505"/><line x1="481" y1="532.3" x2="682" y2="532.3"/><line x1="481" y1="559.7" x2="682" y2="559.7"/><line x1="481" y1="587" x2="682" y2="587"/><line x1="481" y1="614.4" x2="682" y2="614.4"/>
</g>
<g font-size="8.4" fill="#333" text-anchor="end">
<text x="478" y="508">50000</text><text x="478" y="535.3">40000</text><text x="478" y="562.7">30000</text><text x="478" y="590">20000</text><text x="478" y="617.4">10000</text><text x="478" y="644.7">0</text>
</g>
<text transform="translate(445,567) rotate(-90)" font-size="9.6" font-weight="bold" text-anchor="middle" fill="#222">Count</text>
<g>
<rect x="490" y="526.9" width="10" height="114.8" fill="#5bc3e8"/><rect x="501.5" y="528.2" width="10" height="113.5" fill="#aee0f3"/>
<rect x="522.7" y="547.1" width="10" height="94.6" fill="#5fc4aa"/><rect x="534" y="542.5" width="10" height="99.2" fill="#afe2d4"/>
<rect x="555" y="515.4" width="10" height="126.3" fill="#2b4f8d"/><rect x="566.3" y="513.2" width="10" height="128.5" fill="#94a6c6"/>
<rect x="587.3" y="543.5" width="10" height="98.2" fill="#e94a73"/><rect x="598.7" y="539.2" width="10" height="102.5" fill="#f4a3b9"/>
<rect x="619.5" y="527.4" width="10" height="114.3" fill="#456b2d"/><rect x="630.8" y="528.5" width="10" height="113.2" fill="#a1b596"/>
<rect x="652" y="529.3" width="10" height="112.4" fill="#f0895a"/><rect x="663.3" y="526.9" width="10" height="114.8" fill="#f7c4ab"/>
</g>
<g>
<circle cx="493" cy="522" r="1.2" fill="#5bc3e8"/><circle cx="496" cy="527" r="1.2" fill="#5bc3e8"/><circle cx="498" cy="531" r="1.2" fill="#5bc3e8"/>
<circle cx="504" cy="524" r="1.2" fill="#7fcfee"/><circle cx="507" cy="530" r="1.2" fill="#7fcfee"/><circle cx="509" cy="535" r="1.2" fill="#7fcfee"/>
<circle cx="525" cy="538" r="1.2" fill="#5fc4aa"/><circle cx="528" cy="545" r="1.2" fill="#5fc4aa"/><circle cx="531" cy="552" r="1.2" fill="#5fc4aa"/>
<circle cx="537" cy="539" r="1.2" fill="#80d0bb"/><circle cx="540" cy="546" r="1.2" fill="#80d0bb"/><circle cx="542" cy="553" r="1.2" fill="#80d0bb"/>
<circle cx="558" cy="511" r="1.2" fill="#2b4f8d"/><circle cx="561" cy="514" r="1.2" fill="#2b4f8d"/>
<circle cx="569" cy="508" r="1.2" fill="#5d78a8"/><circle cx="572" cy="517" r="1.2" fill="#5d78a8"/><circle cx="570" cy="537" r="1.2" fill="#5d78a8"/><circle cx="574" cy="512" r="1.2" fill="#5d78a8"/>
<circle cx="590" cy="538" r="1.2" fill="#e94a73"/><circle cx="594" cy="543" r="1.2" fill="#e94a73"/>
<circle cx="601" cy="536" r="1.2" fill="#ef7597"/><circle cx="604" cy="544" r="1.2" fill="#ef7597"/><circle cx="606" cy="550" r="1.2" fill="#ef7597"/>
<circle cx="622" cy="521" r="1.2" fill="#456b2d"/><circle cx="626" cy="525" r="1.2" fill="#456b2d"/>
<circle cx="633" cy="522" r="1.2" fill="#6f8c5b"/><circle cx="636" cy="532" r="1.2" fill="#6f8c5b"/><circle cx="638" cy="540" r="1.2" fill="#6f8c5b"/>
<circle cx="655" cy="524" r="1.2" fill="#f0895a"/><circle cx="659" cy="530" r="1.2" fill="#f0895a"/>
<circle cx="666" cy="523" r="1.2" fill="#f4a67f"/><circle cx="669" cy="530" r="1.2" fill="#f4a67f"/><circle cx="668" cy="538" r="1.2" fill="#f4a67f"/>
</g>
<line x1="481" y1="504" x2="481" y2="642.2" stroke="#888" stroke-width="0.8"/>
<line x1="481" y1="641.7" x2="682" y2="641.7" stroke="#888" stroke-width="0.8"/>
<g font-size="9" fill="#222">
<text transform="translate(498.5,649) rotate(45)">Plasma 1</text><text transform="translate(531.3,649) rotate(45)">Plasma 2</text><text transform="translate(564.1,649) rotate(45)">Plasma 3</text><text transform="translate(596.9,649) rotate(45)">Plasma 4</text><text transform="translate(629.7,649) rotate(45)">Plasma 5</text><text transform="translate(662.5,649) rotate(45)">Plasma 6</text>
</g>
<!-- D legend -->
<text x="486" y="691" font-size="5.8" fill="#333">Plate 1</text>
<rect x="503" y="685.5" width="9.5" height="6.5" fill="#5bc3e8"/><rect x="512.5" y="685.5" width="9.5" height="6.5" fill="#5fc4aa"/><rect x="522" y="685.5" width="9.5" height="6.5" fill="#2b4f8d"/><rect x="531.5" y="685.5" width="9.5" height="6.5" fill="#e94a73"/><rect x="541" y="685.5" width="9.5" height="6.5" fill="#456b2d"/><rect x="550.5" y="685.5" width="9.5" height="6.5" fill="#f0895a"/>
<text x="583" y="691" font-size="5.8" fill="#333">Plate 2</text>
<rect x="600" y="685.5" width="9.5" height="6.5" fill="#aee0f3"/><rect x="609.5" y="685.5" width="9.5" height="6.5" fill="#afe2d4"/><rect x="619" y="685.5" width="9.5" height="6.5" fill="#94a6c6"/><rect x="628.5" y="685.5" width="9.5" height="6.5" fill="#f4a3b9"/><rect x="638" y="685.5" width="9.5" height="6.5" fill="#a1b596"/><rect x="647.5" y="685.5" width="9.5" height="6.5" fill="#f7c4ab"/>
</svg>
</body></html>
